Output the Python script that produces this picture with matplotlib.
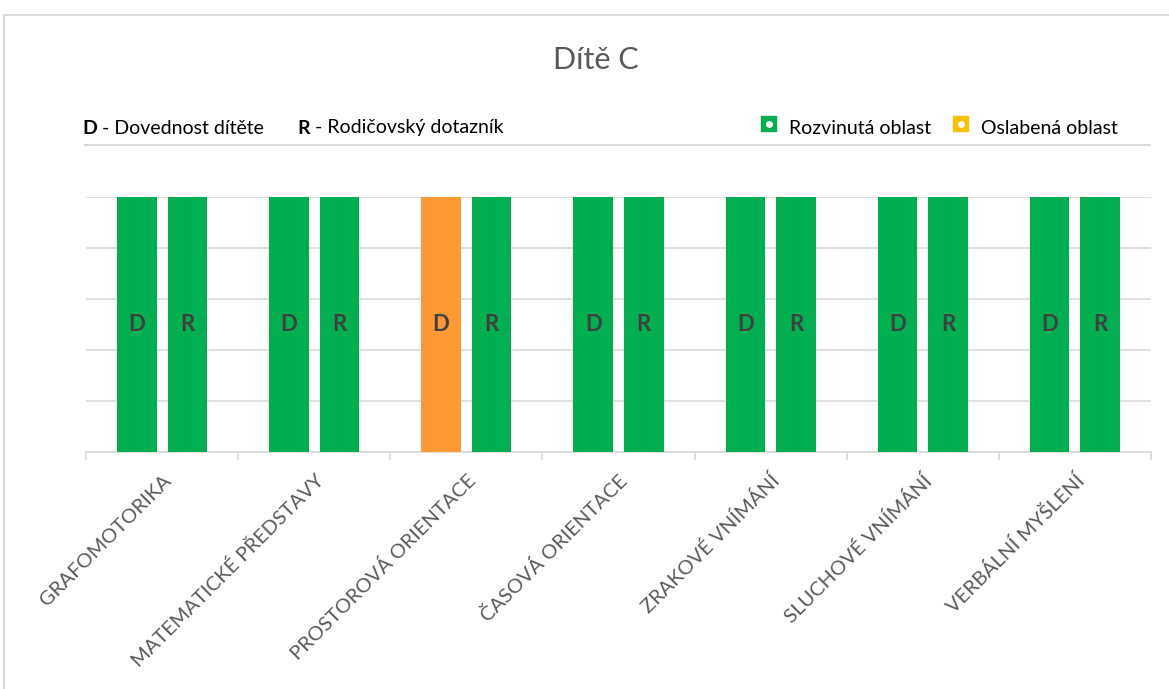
import numpy as np
import matplotlib.pyplot as plt
from matplotlib.patches import Rectangle
from matplotlib.lines import Line2D

plt.rcParams['font.family'] = ['Lato', 'DejaVu Sans']

# data
categories = ['GRAFOMOTORIKA', 'MATEMATICKÉ PŘEDSTAVY', 'PROSTOROVÁ ORIENTACE',
              'ČASOVÁ ORIENTACE', 'ZRAKOVÉ VNÍMÁNÍ', 'SLUCHOVÉ VNÍMÁNÍ', 'VERBÁLNÍ MYŠLENÍ']
d_values = [5, 5, 5, 5, 5, 5, 5]
r_values = [5, 5, 5, 5, 5, 5, 5]
d_status = ['ok', 'ok', 'weak', 'ok', 'ok', 'ok', 'ok']
r_status = ['ok', 'ok', 'ok', 'ok', 'ok', 'ok', 'ok']

GREEN = '#00B050'
ORANGE = '#FF9933'
LEGEND_ORANGE = '#FFC000'
GRID = '#D9D9D9'
colors = {'ok': GREEN, 'weak': ORANGE}

fig = plt.figure(figsize=(11.69, 6.89), dpi=100)
W, H = 1169, 689


def fx(px):
    return px / W


def fy(py):
    return 1 - py / H


# chart border
fig.add_artist(Line2D([fx(4), 1.0], [fy(15), fy(15)], color=GRID, lw=1.5))
fig.add_artist(Line2D([fx(4), fx(4)], [fy(15), 0], color=GRID, lw=1.5))

ax = fig.add_axes([fx(86), fy(452), fx(1151) - fx(86), fy(197) - fy(452)])

x = np.arange(len(categories))
width = 0.26
off = 0.166
ax.bar(x - off, d_values, width, color=[colors[s] for s in d_status], zorder=3)
ax.bar(x + off, r_values, width, color=[colors[s] for s in r_status], zorder=3)
for xi in x:
    ax.text(xi - off, 2.5, 'D', ha='center', va='center', fontsize=16,
            fontweight='bold', color='#404040', zorder=4)
    ax.text(xi + off, 2.5, 'R', ha='center', va='center', fontsize=16,
            fontweight='bold', color='#404040', zorder=4)

ax.set_xlim(-0.5, len(categories) - 0.5)
ax.set_ylim(0, 5)
ax.set_yticks(np.arange(0, 6, 1))
ax.yaxis.grid(True, color=GRID, lw=1.2, zorder=0)
ax.tick_params(axis='y', left=False, labelleft=False)
for s in ['top', 'right', 'left']:
    ax.spines[s].set_visible(False)
ax.spines['bottom'].set_color(GRID)
ax.spines['bottom'].set_linewidth(1.2)

ax.set_xticks(x)
ax.set_xticklabels(categories, rotation=45, ha='right', rotation_mode='anchor',
                   fontsize=14.5, color='#595959')
ax.set_xticks(np.arange(-0.5, len(categories), 1), minor=True)
ax.tick_params(axis='x', which='major', length=0, pad=14)
ax.tick_params(axis='x', which='minor', length=6, color=GRID, width=1.2)

# title
fig.text(fx(596), fy(60), 'Dítě C', ha='center', va='center', fontsize=22, color='#595959')

fig.canvas.draw()
renderer = fig.canvas.get_renderer()


def key_text(px, letter, rest):
    t = fig.text(fx(px), fy(128), letter, ha='left', va='center', fontsize=14,
                 fontweight='bold', color='black')
    bb = t.get_window_extent(renderer)
    fig.text(bb.x1 / W, fy(128), ' - ' + rest, ha='left', va='center', fontsize=14, color='black')


# left legend (letter meaning)
key_text(82, 'D', 'Dovednost dítěte')
key_text(297, 'R', 'Rodičovský dotazník')

# right legend (colour meaning)
for sx, col, label in [(761, GREEN, 'Rozvinutá oblast'), (953, LEGEND_ORANGE, 'Oslabená oblast')]:
    fig.add_artist(Rectangle((fx(sx), fy(131)), fx(15), fy(116) - fy(131),
                             color=col, transform=fig.transFigure))
    fig.add_artist(Line2D([fx(sx + 7.5)], [fy(123.5)], marker='o', ms=4, color='white',
                          mec='white', transform=fig.transFigure))
    fig.text(fx(sx + 28), fy(128), label, ha='left', va='center', fontsize=14, color='black')

# separator line below legend
fig.add_artist(Line2D([fx(85), fx(1150)], [fy(145), fy(145)], color=GRID, lw=1.5))

fig.savefig('out.png', dpi=100, facecolor='white')
